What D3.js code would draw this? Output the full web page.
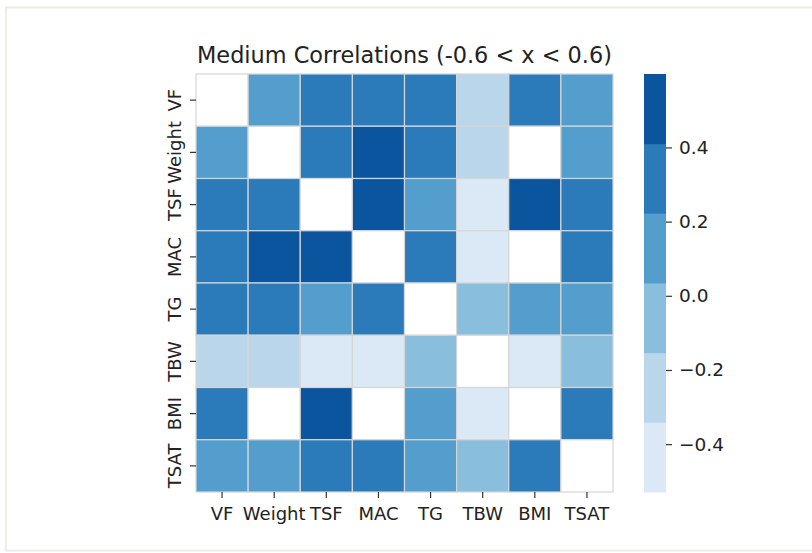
<!DOCTYPE html>
<html>
<head>
<meta charset="utf-8">
<script src="https://cdn.jsdelivr.net/npm/d3@7"></script>
<style>
  html, body { margin: 0; padding: 0; background: #ffffff; }
  svg { display: block; font-family: "DejaVu Sans", sans-serif; }
</style>
</head>
<body>
<svg id="chart" width="812" height="553"></svg>
<script>
// Variables, in row/column order
const labels = ["VF", "Weight", "TSF", "MAC", "TG", "TBW", "BMI", "TSAT"];

// Correlation rows; null = diagonal or outside the medium range (not coloured)
const rowVF     = [null, 0.18, 0.33, 0.31, 0.29, -0.27, 0.36, 0.14];
const rowWeight = [0.18, null, 0.30, 0.53, 0.27, -0.24, null, 0.12];
const rowTSF    = [0.33, 0.30, null, 0.57, 0.19, -0.45, 0.598, 0.26];
const rowMAC    = [0.31, 0.53, 0.57, null, 0.32, -0.41, null, 0.28];
const rowTG     = [0.29, 0.27, 0.19, 0.32, null, -0.05, 0.16, 0.11];
const rowTBW    = [-0.27, -0.24, -0.45, -0.41, -0.05, null, -0.529, 0.02];
const rowBMI    = [0.36, null, 0.598, null, 0.16, -0.529, null, 0.34];
const rowTSAT   = [0.14, 0.12, 0.26, 0.28, 0.11, 0.02, 0.34, null];

const rows = [rowVF, rowWeight, rowTSF, rowMAC, rowTG, rowTBW, rowBMI, rowTSAT];

// Six-step "Blues" palette
const palette = ["#dbe9f6", "#bad6eb", "#89bedc", "#539ecd", "#2b7bba", "#0b559f"];
const colorTicks = [-0.4, -0.2, 0.0, 0.2, 0.4];

const title = "Medium Correlations (-0.6 < x < 0.6)";

const svg = d3.select("#chart");
const textColor = "#222222";
const fontSize = 18;

// Outer frame
svg.append("rect")
  .attr("x", 6).attr("y", 7.5)
  .attr("width", 830).attr("height", 543)
  .attr("fill", "none")
  .attr("stroke", "#eeede3")
  .attr("stroke-width", 2);

// Heatmap area
const hm = { left: 196, top: 74, right: 613, bottom: 492 };

const x = d3.scaleBand().domain(labels).range([hm.left, hm.right]);
const y = d3.scaleBand().domain(labels).range([hm.top, hm.bottom]);

const allValues = rows.flat().filter(v => v !== null);
const [vmin, vmax] = d3.extent(allValues);
const color = d3.scaleQuantize().domain([vmin, vmax]).range(palette);

const cells = [];
rows.forEach((r, i) => r.forEach((v, j) => cells.push({ row: labels[i], col: labels[j], v })));

svg.append("g")
  .selectAll("rect")
  .data(cells)
  .join("rect")
  .attr("x", d => x(d.col))
  .attr("y", d => y(d.row))
  .attr("width", x.bandwidth())
  .attr("height", y.bandwidth())
  .attr("fill", d => d.v === null ? "#ffffff" : color(d.v))
  .attr("stroke", "#d6d6d6")
  .attr("stroke-width", 1.2);

// Axes
const xAxis = svg.append("g")
  .attr("transform", `translate(0,${hm.bottom})`)
  .call(d3.axisBottom(x).tickSize(6).tickPadding(6));
const yAxis = svg.append("g")
  .attr("transform", `translate(${hm.left},0)`)
  .call(d3.axisLeft(y).tickSize(6).tickPadding(6));

[xAxis, yAxis].forEach(g => {
  g.select(".domain").remove();
  g.selectAll(".tick line").attr("stroke", "#333").attr("stroke-width", 1.2);
  g.selectAll(".tick text")
    .attr("fill", textColor)
    .style("font-size", fontSize + "px")
    .style("font-family", "'DejaVu Sans', sans-serif");
});
xAxis.selectAll(".tick text").attr("dy", "0.75em").attr("y", 14);

// Vertical row labels
yAxis.selectAll(".tick text")
  .attr("text-anchor", "middle")
  .attr("x", 0).attr("y", 0).attr("dy", 0)
  .attr("transform", "translate(-15.5,0) rotate(-90)");

// Colour bar
const cb = { left: 644, right: 666, top: hm.top, bottom: hm.bottom };
const cbScale = d3.scaleLinear().domain([vmin, vmax]).range([cb.bottom, cb.top]);
const step = (vmax - vmin) / palette.length;
const bins = palette.map((c, i) => ({ c, lo: vmin + i * step, hi: vmin + (i + 1) * step }));

svg.append("g")
  .selectAll("rect")
  .data(bins)
  .join("rect")
  .attr("x", cb.left)
  .attr("width", cb.right - cb.left)
  .attr("y", d => cbScale(d.hi))
  .attr("height", d => cbScale(d.lo) - cbScale(d.hi) + 0.5)
  .attr("fill", d => d.c);

const cbAxis = svg.append("g")
  .attr("transform", `translate(${cb.right},0)`)
  .call(d3.axisRight(cbScale).tickValues(colorTicks).tickFormat(d3.format(".1f")).tickSize(6).tickPadding(7));
cbAxis.select(".domain").remove();
cbAxis.selectAll(".tick line").attr("stroke", "#333").attr("stroke-width", 1.2);
cbAxis.selectAll(".tick text")
  .attr("fill", textColor)
  .style("font-size", "18.5px")
  .style("font-family", "'DejaVu Sans', sans-serif");

// Title
svg.append("text")
  .attr("x", (hm.left + hm.right) / 2)
  .attr("y", 63)
  .attr("text-anchor", "middle")
  .attr("fill", textColor)
  .style("font-size", "22.4px")
  .text(title);
</script>
</body>
</html>
